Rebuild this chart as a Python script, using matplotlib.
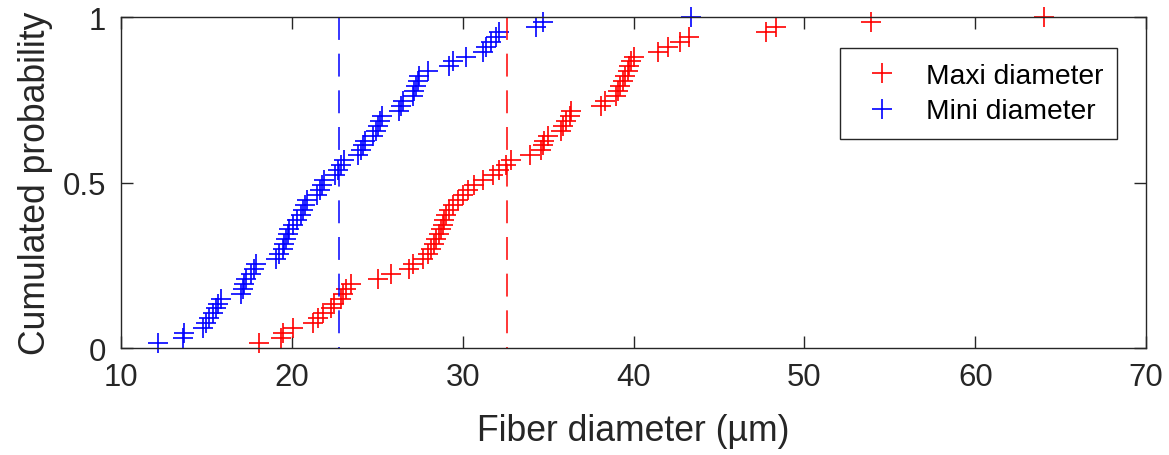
import numpy as np
import matplotlib
matplotlib.use('Agg')
import matplotlib.pyplot as plt

plt.rcParams['font.family'] = ['Liberation Sans', 'DejaVu Sans']

# fiber diameters (um), sorted
maxi_diam = [18.10, 19.37, 19.47, 20.05, 21.22, 21.52, 21.81, 22.30, 22.49, 22.88,
             22.98, 23.17, 23.47, 25.03, 25.81, 26.88, 27.08, 27.66, 27.96, 28.15,
             28.34, 28.44, 28.64, 28.74, 28.84, 28.92, 29.03, 29.22, 29.42, 29.71,
             30.01, 30.30, 30.68, 31.18, 31.76, 32.15, 32.54, 32.83, 33.91, 34.59,
             34.69, 34.78, 34.98, 35.76, 35.86, 36.05, 36.25, 36.35, 38.10, 38.30,
             38.98, 39.08, 39.18, 39.37, 39.47, 39.66, 39.76, 39.86, 40.05, 41.42,
             42.01, 42.69, 43.27, 47.76, 48.35, 53.90, 64.04]

mini_diam = [12.15, 13.61, 13.71, 14.78, 14.98, 15.17, 15.37, 15.56, 15.66, 15.85,
             17.03, 17.13, 17.22, 17.32, 17.61, 17.80, 17.90, 19.07, 19.27, 19.47,
             19.56, 19.66, 19.76, 19.85, 20.07, 20.30, 20.54, 20.65, 20.77, 20.89,
             21.47, 21.65, 21.77, 21.89, 22.53, 22.71, 22.88, 23.06, 23.88, 24.05,
             24.17, 24.29, 24.76, 24.93, 25.05, 25.17, 25.28, 26.29, 26.39, 26.49,
             27.08, 27.17, 27.27, 27.37, 27.46, 27.96, 29.22, 29.42, 30.20, 31.18,
             31.37, 31.66, 31.96, 32.15, 34.30, 34.69, 43.37]

# mean diameters (dashed lines)
maxi_mean = 32.6
mini_mean = 22.75

dark = (0.15, 0.15, 0.15)

fig = plt.figure(figsize=(11.69, 4.56), dpi=100)
ax = fig.add_axes([0.1035, 0.2346, 0.877, 0.7259])

y_maxi = np.arange(1, len(maxi_diam) + 1) / len(maxi_diam)
y_mini = np.arange(1, len(mini_diam) + 1) / len(mini_diam)

ax.plot(maxi_diam, y_maxi, '+', color='red', markersize=14.5, mew=1.2,
        label='Maxi diameter', clip_on=False)
ax.plot(mini_diam, y_mini, '+', color='blue', markersize=14.5, mew=1.2,
        label='Mini diameter', clip_on=False)

ax.plot([maxi_mean, maxi_mean], [1, 0], color='red', lw=1.1, ls=(0, (15, 9)))
ax.plot([mini_mean, mini_mean], [1, 0], color='blue', lw=1.1, ls=(0, (15, 9)))

ax.set_xlim(10, 70)
ax.set_ylim(0, 1)
ax.set_xticks([10, 20, 30, 40, 50, 60, 70])
ax.set_yticks([0, 0.5, 1])
ax.set_yticklabels(['0', '0.5', '1'])

for s in ax.spines.values():
    s.set_color(dark)
    s.set_linewidth(1.0)

ax.tick_params(direction='in', length=8.5, width=1.0, colors=dark,
               labelsize=22.4, top=True, right=True)
ax.tick_params(axis='x', pad=10)
ax.tick_params(axis='y', pad=11)

ax.set_xlabel('Fiber diameter (µm)', fontsize=25.6, color=dark, labelpad=15)
ax.set_ylabel('Cumulated probability', fontsize=25.6, color=dark, labelpad=7)

leg = ax.legend(loc='upper right', bbox_to_anchor=(0.972, 0.905),
                borderaxespad=0, fontsize=20.3, fancybox=False, framealpha=1,
                edgecolor=dark, handlelength=2, handletextpad=0.55,
                borderpad=0.5, labelspacing=0.35)
leg.get_frame().set_linewidth(1.0)

plt.savefig('out.png', dpi=100)
